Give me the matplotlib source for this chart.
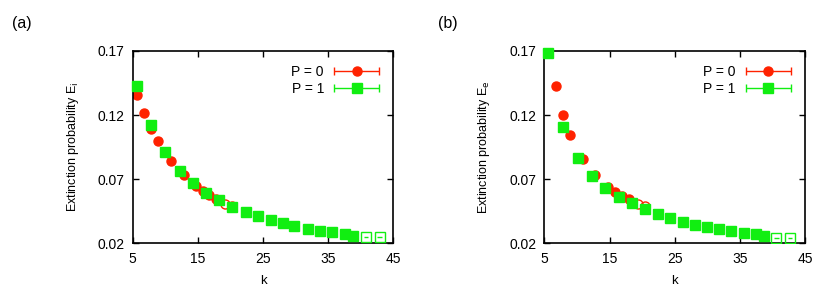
import matplotlib
matplotlib.use('Agg')
import matplotlib.pyplot as plt
from matplotlib.legend_handler import HandlerErrorbar

plt.rcParams['font.family'] = ['Liberation Sans', 'DejaVu Sans']

red = '#ff2200'
green = '#11ee11'

# panel (a): E_i
a_k_p0 = [5.6, 6.7, 7.8, 8.9, 10.8, 12.8, 14.7, 15.7, 16.7, 17.7]
a_e_p0 = [0.1356, 0.1213, 0.1088, 0.0997, 0.0843, 0.0731, 0.0645, 0.0609, 0.0575, 0.0549]
a_k_p0_open = [19.2, 20.3]
a_e_p0_open = [0.0505, 0.0490]
a_k_p1 = [5.6, 7.8, 9.9, 12.2, 14.3, 16.3, 18.3, 20.3, 22.4, 24.2, 26.2, 28.1, 29.8,
          31.9, 33.7, 35.5, 37.6, 38.8]
a_e_p1 = [0.1430, 0.1123, 0.0910, 0.0767, 0.0668, 0.0591, 0.0534, 0.0484, 0.0442, 0.0411,
          0.0382, 0.0356, 0.0335, 0.0315, 0.0299, 0.0286, 0.0270, 0.0260]
a_k_p1_open = [40.8, 42.9]
a_e_p1_open = [0.0247, 0.0247]

# panel (b): E_e
b_k_p0 = [6.8, 7.8, 8.9, 10.9, 12.8, 14.8, 15.8, 16.9, 17.9]
b_e_p0 = [0.1427, 0.1198, 0.1044, 0.0854, 0.0731, 0.0640, 0.0600, 0.0570, 0.0544]
b_k_p0_open = [19.4, 20.4]
b_e_p0_open = [0.0505, 0.0489]
b_k_p1 = [5.6, 7.8, 10.1, 12.3, 14.3, 16.4, 18.4, 20.4, 22.4, 24.3, 26.2, 28.1, 29.9,
          31.8, 33.7, 35.6, 37.5, 38.7]
b_e_p1 = [0.1687, 0.1105, 0.0863, 0.0728, 0.0634, 0.0564, 0.0512, 0.0465, 0.0426, 0.0395,
          0.0369, 0.0343, 0.0325, 0.0309, 0.0296, 0.0278, 0.0270, 0.0260]
b_k_p1_open = [40.6, 42.7]
b_e_p1_open = [0.0244, 0.0244]

panels = [
    ('(a)', r'Extinction probability E$_{\rm i}$', a_k_p0, a_e_p0, a_k_p0_open, a_e_p0_open,
     a_k_p1, a_e_p1, a_k_p1_open, a_e_p1_open),
    ('(b)', r'Extinction probability E$_{\rm e}$', b_k_p0, b_e_p0, b_k_p0_open, b_e_p0_open,
     b_k_p1, b_e_p1, b_k_p1_open, b_e_p1_open),
]

fig = plt.figure(figsize=(8.3, 2.91), dpi=100)
lefts = [0.160, 0.656]
tags_x = [0.014, 0.528]

for i, (tag, ylab, k0, e0, k0o, e0o, k1, e1, k1o, e1o) in enumerate(panels):
    ax = fig.add_axes([lefts[i], 0.164, 0.314, 0.661])

    h0 = ax.errorbar(k0, e0, xerr=0.2, fmt='o', color=red, ms=6.5, capsize=3,
                     elinewidth=1, label='P = 0', zorder=2)
    ax.plot(k0o, e0o, 'o', mfc='none', mec=red, ms=6.5, mew=1, zorder=2)
    h1 = ax.errorbar(k1, e1, xerr=0.2, fmt='s', color=green, ms=6.5, capsize=3,
                     elinewidth=1, label='P = 1', zorder=3, clip_on=False)
    ax.errorbar(k1o, e1o, xerr=0.35, fmt='s', mfc='none', mec=green, ecolor=green,
                ms=6.5, mew=1, capsize=0, elinewidth=1, zorder=3)

    ax.set_xlim(5, 45)
    ax.set_ylim(0.02, 0.17)
    ax.set_xticks([5, 15, 25, 35, 45])
    ax.set_yticks([0.02, 0.07, 0.12, 0.17])
    ax.set_yticklabels(['0.02', '0.07', '0.12', '0.17'])
    ax.tick_params(direction='in', top=True, right=True, length=4, width=1,
                   labelsize=10, pad=6)
    for s in ax.spines.values():
        s.set_linewidth(1.2)
    ax.set_xlabel('k', fontsize=9.5, labelpad=7)
    ax.set_ylabel(ylab, fontsize=9, labelpad=12)

    ax.legend([h0, h1], ['P = 0', 'P = 1'], loc='upper right', frameon=False,
              markerfirst=False, fontsize=10, handlelength=3.3, handletextpad=0.7,
              labelspacing=0.25, borderaxespad=0.6,
              handler_map={type(h0): HandlerErrorbar(xerr_size=1.6)})

    fig.text(tags_x[i], 0.92, tag, fontsize=11.5, va='center')

fig.savefig('out.png', dpi=100)
